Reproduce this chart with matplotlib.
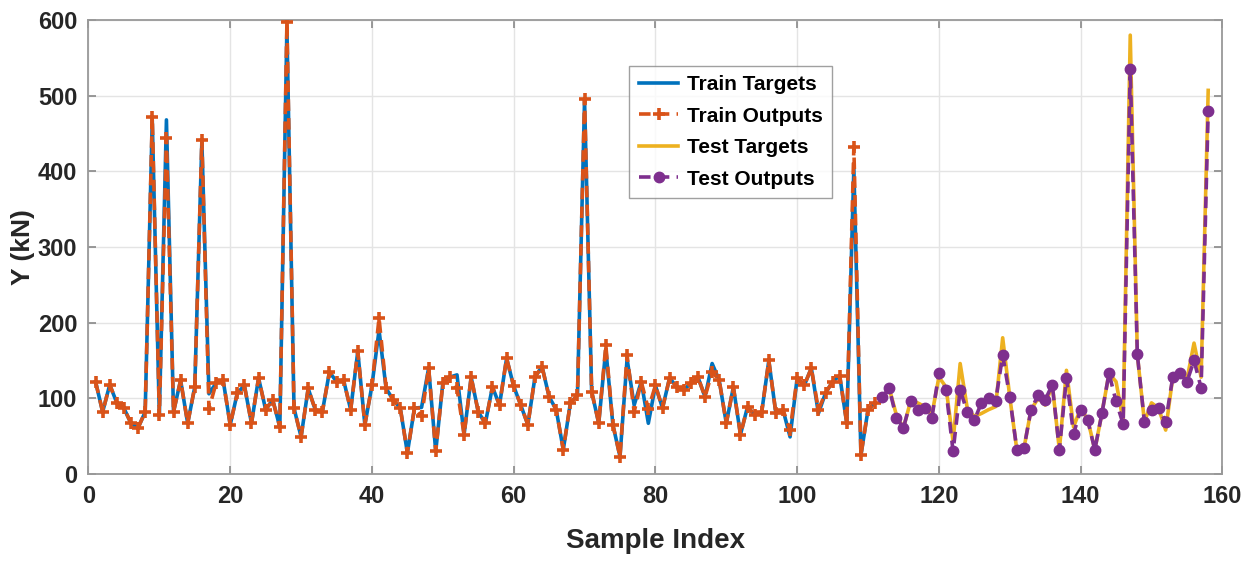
import matplotlib
matplotlib.use("Agg")
import matplotlib.pyplot as plt
import numpy as np

# ---------------- data ----------------
train_idx = list(range(1, 112))
train_targets = [122, 82, 118, 94, 87, 67, 61, 82, 468, 78,
                 468, 82, 124, 67, 115, 440, 106, 120, 124, 65,
                 107, 117, 67, 127, 85, 98, 62, 590, 87, 49,
                 113, 85, 82, 135, 122, 124, 85, 162, 65, 117,
                 190, 113, 98, 87, 28, 87, 88, 140, 30, 120,
                 128, 131, 52, 128, 82, 67, 115, 91, 153, 116,
                 91, 65, 128, 142, 102, 85, 32, 94, 104, 494,
                 109, 67, 165, 65, 23, 152, 91, 122, 67, 117,
                 87, 127, 115, 111, 120, 128, 102, 146, 124, 67,
                 115, 52, 89, 78, 82, 150, 80, 85, 49, 127,
                 117, 140, 80, 107, 122, 130, 67, 404, 25, 85,
                 94]
train_outputs = [122, 82, 118, 94, 87, 67, 61, 82, 472, 78,
                 444, 82, 124, 67, 115, 442, 86, 120, 124, 65,
                 107, 117, 67, 127, 85, 98, 62, 597, 87, 49,
                 113, 85, 82, 135, 122, 124, 85, 162, 65, 117,
                 206, 113, 98, 87, 28, 87, 76, 140, 30, 120,
                 128, 113, 52, 128, 82, 67, 115, 91, 153, 116,
                 91, 65, 128, 142, 102, 85, 32, 94, 104, 496,
                 109, 67, 170, 65, 23, 157, 82, 122, 86, 117,
                 87, 127, 115, 111, 120, 128, 102, 135, 124, 67,
                 115, 52, 89, 78, 82, 150, 80, 85, 58, 127,
                 117, 140, 85, 107, 122, 130, 67, 432, 25, 85,
                 94]

test_idx = list(range(112, 159))
test_targets = [100, 113, 78, 61, 96, 94, 89, 78, 128, 115,
                43, 146, 87, 76, 80, 85, 89, 180, 102, 32,
                34, 85, 100, 91, 118, 32, 137, 62, 87, 72,
                32, 80, 133, 122, 70, 580, 158, 69, 94, 87,
                58, 128, 133, 125, 173, 128, 507]
test_outputs = [102, 113, 74, 61, 96, 85, 87, 74, 133, 111,
                30, 111, 82, 71, 94, 100, 96, 157, 102, 32,
                34, 85, 104, 98, 118, 32, 127, 53, 85, 71,
                32, 80, 133, 96, 66, 535, 158, 69, 84, 87,
                69, 128, 133, 122, 150, 114, 480]

x_ticks = [0, 20, 40, 60, 80, 100, 120, 140, 160]
y_ticks = [0, 100, 200, 300, 400, 500, 600]

# ---------------- style ----------------
plt.rcParams['font.family'] = ['Liberation Sans', 'DejaVu Sans']
plt.rcParams['font.weight'] = 'bold'

C_BLUE = '#0072BD'
C_ORANGE = '#D95319'
C_YELLOW = '#EDB120'
C_PURPLE = '#7E2F8E'

fig = plt.figure(figsize=(12.55, 5.62), dpi=100)
ax = fig.add_axes([0.0705, 0.1566, 0.9035, 0.8078])

ax.plot(train_idx, train_targets, '-', color=C_BLUE, lw=2.6, label='Train Targets', zorder=3)
ax.plot(train_idx, train_outputs, '--', color=C_ORANGE, lw=2.6, marker='+',
        markersize=8, markeredgewidth=2.6, dashes=(3.2, 2), label='Train Outputs', zorder=4)
ax.plot(test_idx, test_targets, '-', color=C_YELLOW, lw=2.6, label='Test Targets', zorder=3)
ax.plot(test_idx, test_outputs, '--', color=C_PURPLE, lw=2.6, marker='o',
        markersize=7.5, dashes=(3.2, 2), label='Test Outputs', zorder=4)

ax.set_xlim(0, 160)
ax.set_ylim(0, 600)
ax.set_xticks(x_ticks)
ax.set_yticks(y_ticks)
ax.tick_params(direction='in', length=6, width=1.2, colors='#888888',
               labelcolor='#262626', labelsize=17, pad=8, top=True, right=True)
for lab in ax.get_xticklabels() + ax.get_yticklabels():
    lab.set_fontweight('bold')

ax.grid(True, color='#e4e4e4', lw=1.0)
ax.set_axisbelow(True)
for s in ax.spines.values():
    s.set_color('#999999')
    s.set_linewidth(1.3)

ax.set_xlabel('Sample Index', fontsize=20, fontweight='bold', color='#262626', labelpad=14)
ax.set_ylabel('Y (kN)', fontsize=19, fontweight='bold', color='#262626', labelpad=2)

leg = ax.legend(loc='upper left', bbox_to_anchor=(0.477, 0.899),
                prop={'weight': 'bold', 'size': 15}, frameon=True, fancybox=False,
                handlelength=1.9, labelspacing=0.6, borderpad=0.45, handletextpad=0.4,
                borderaxespad=0)
leg.get_frame().set_edgecolor('#888888')
leg.get_frame().set_linewidth(1.0)

fig.savefig('out.png', dpi=100)
